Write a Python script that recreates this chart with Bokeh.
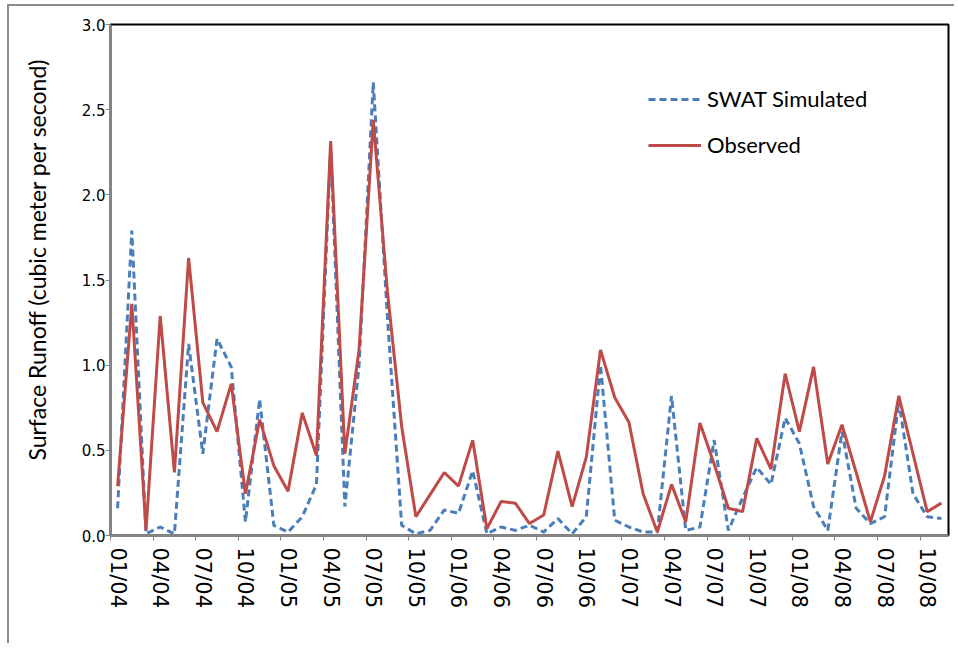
from bokeh.plotting import figure
from bokeh.models import (Range1d, FixedTicker, Legend, LegendItem,
                          NumeralTickFormatter)
from bokeh.embed import file_html
from bokeh.resources import INLINE

# Monthly surface runoff, 01/2004 .. 11/2008 (59 months)
observed = [0.29, 1.36, 0.03, 1.29, 0.37, 1.63, 0.78, 0.61, 0.89, 0.245,
            0.68, 0.41, 0.26, 0.72, 0.47, 2.315, 0.48, 1.09, 2.44, 1.43,
            0.64, 0.11, 0.24, 0.37, 0.29, 0.56, 0.04, 0.20, 0.19, 0.07,
            0.12, 0.495, 0.17, 0.46, 1.09, 0.81, 0.665, 0.245, 0.02, 0.30,
            0.08, 0.66, 0.42, 0.16, 0.14, 0.57, 0.39, 0.95, 0.61, 0.99,
            0.42, 0.65, 0.37, 0.08, 0.35, 0.82, 0.48, 0.14, 0.19]
simulated = [0.16, 1.79, 0.01, 0.05, 0.01, 1.125, 0.48, 1.155, 0.99, 0.08,
             0.80, 0.06, 0.02, 0.11, 0.30, 2.28, 0.17, 1.00, 2.66, 1.28,
             0.06, 0.01, 0.03, 0.15, 0.13, 0.38, 0.01, 0.05, 0.03, 0.06,
             0.02, 0.10, 0.01, 0.11, 1.00, 0.09, 0.05, 0.02, 0.02, 0.82,
             0.03, 0.05, 0.56, 0.03, 0.22, 0.40, 0.30, 0.69, 0.54, 0.17,
             0.03, 0.61, 0.16, 0.07, 0.11, 0.79, 0.245, 0.11, 0.10]
tick_labels = ["01/04", "04/04", "07/04", "10/04", "01/05", "04/05", "07/05",
               "10/05", "01/06", "04/06", "07/06", "10/06", "01/07", "04/07",
               "07/07", "10/07", "01/08", "04/08", "07/08", "10/08"]
y_title = "Surface Runoff  (cubic meter per second)"

n = len(observed)
xs = list(range(n))
label_pos = list(range(0, n, 3))[:len(tick_labels)]
boundaries = [i - 0.5 for i in label_pos]

p = figure(width=947, height=639, x_range=Range1d(-0.5, n - 0.5),
           y_range=Range1d(0, 3), output_backend="svg", toolbar_location=None,
           min_border_left=101, min_border_right=8, min_border_top=18,
           min_border_bottom=110)
p.styles = {"margin-left": "7px", "margin-top": "4px",
            "border-left": "2px solid #8c8c8c", "border-top": "2px solid #8c8c8c"}
p.xgrid.visible = False
p.ygrid.visible = False
p.outline_line_color = "black"
p.outline_line_width = 2

BLUE = "#4a7ebb"
RED = "#be4b48"

r_sim = p.line(xs, simulated, line_color=BLUE, line_width=3, line_dash="7 4")
r_obs = p.line(xs, observed, line_color=RED, line_width=3)

# x axis
xa = p.xaxis[0]
xa.ticker = FixedTicker(ticks=label_pos, minor_ticks=boundaries)
xa.major_label_overrides = {pos: lab for pos, lab in zip(label_pos, tick_labels)}
xa.major_label_orientation = "vertical"
xa.major_tick_line_color = None
xa.minor_tick_line_color = "#868686"
xa.minor_tick_line_width = 1
xa.minor_tick_in = 0
xa.minor_tick_out = 5
xa.axis_line_color = "#868686"
xa.axis_line_width = 2
xa.major_label_standoff = 6
xa.major_label_text_font = "DejaVu Sans"
xa.major_label_text_font_size = "21px"
xa.major_label_text_color = "#000000"

# y axis
ya = p.yaxis[0]
ya.ticker = FixedTicker(ticks=[0, 0.5, 1.0, 1.5, 2.0, 2.5, 3.0])
ya.formatter = NumeralTickFormatter(format="0.0")
ya.minor_tick_line_color = None
ya.major_tick_line_color = "#868686"
ya.major_tick_in = 0
ya.major_tick_out = 5
ya.axis_line_color = "#868686"
ya.axis_line_width = 2
ya.major_label_standoff = 0
ya.major_label_text_font = "DejaVu Sans"
ya.major_label_text_font_size = "15px"
ya.major_label_text_color = "#000000"
# leading no-break spaces nudge the centred title upward, as in the original
ya.axis_label = "\u00a0" * 8 + y_title
ya.axis_label_text_font = "Lato"
ya.axis_label_text_font_style = "normal"
ya.axis_label_text_font_size = "23px"
ya.axis_label_text_color = "#000000"
ya.axis_label_standoff = 28

legend = Legend(items=[LegendItem(label="SWAT Simulated", renderers=[r_sim]),
                       LegendItem(label="Observed", renderers=[r_obs])],
                location=(538, 377), padding=0, margin=0, spacing=19,
                glyph_width=53, glyph_height=20, label_height=20,
                label_standoff=6, border_line_color=None,
                background_fill_alpha=0,
                label_text_font="Lato", label_text_font_size="22px",
                label_text_color="#000000")
p.add_layout(legend)

open("out.html", "w").write(file_html(p, INLINE))
